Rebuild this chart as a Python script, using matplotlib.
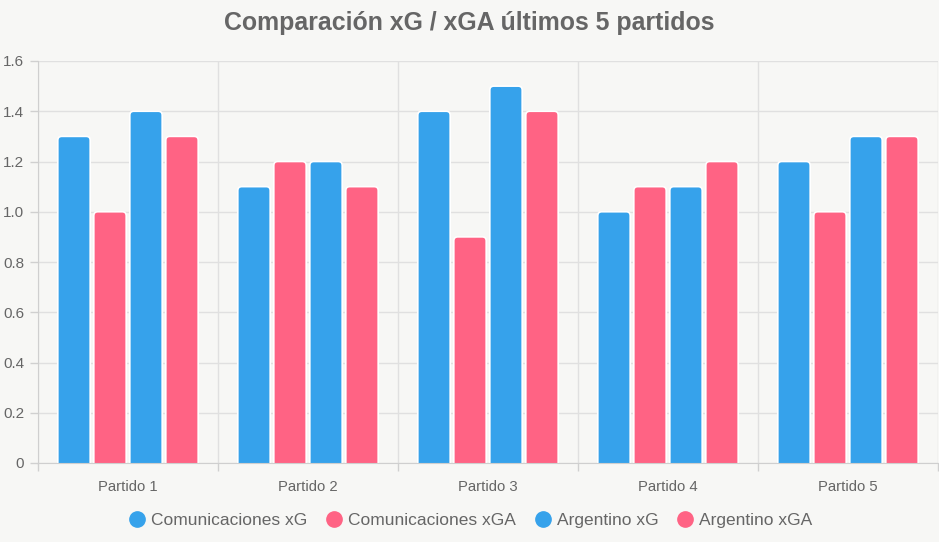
import numpy as np
import matplotlib.pyplot as plt
from matplotlib.patches import FancyBboxPatch
from matplotlib.lines import Line2D

plt.rcParams['font.family'] = ['Liberation Sans', 'DejaVu Sans']

partidos = ['Partido 1', 'Partido 2', 'Partido 3', 'Partido 4', 'Partido 5']
com_xg = [1.3, 1.1, 1.4, 1.0, 1.2]
com_xga = [1.0, 1.2, 0.9, 1.1, 1.0]
arg_xg = [1.4, 1.2, 1.5, 1.1, 1.3]
arg_xga = [1.3, 1.1, 1.4, 1.2, 1.3]
series = ['Comunicaciones xG', 'Comunicaciones xGA', 'Argentino xG', 'Argentino xGA']
yticks = [0, 0.2, 0.4, 0.6, 0.8, 1.0, 1.2, 1.4, 1.6]
ytick_labels = ['0', '0.2', '0.4', '0.6', '0.8', '1.0', '1.2', '1.4', '1.6']

blue = '#36A2EB'
pink = '#FF6384'
colors = [blue, pink, blue, pink]
bg = '#f7f7f5'
txt = '#666666'

fig = plt.figure(figsize=(9.39, 5.42), dpi=100)
fig.patch.set_facecolor(bg)
ax = fig.add_axes([38/939, (542-463)/542, 900/939, 402/542])
ax.set_facecolor(bg)

x = np.arange(len(partidos))
group = 0.8
bw = group / 4
data = [com_xg, com_xga, arg_xg, arg_xga]
for i, vals in enumerate(data):
    offs = -group/2 + bw*(i + 0.5)
    bars = ax.bar(x + offs, vals, width=bw*0.9, color=colors[i])
    for b in bars:
        b.set_visible(False)
        px, py = b.get_x(), b.get_y()
        w, h = b.get_width(), b.get_height()
        p = FancyBboxPatch((px, py - 0.05), w, h + 0.05,
                           boxstyle='round,pad=0,rounding_size=0.022',
                           mutation_aspect=0.72,
                           facecolor=colors[i], edgecolor='white', linewidth=1.2,
                           clip_on=True, zorder=2)
        ax.add_patch(p)

ax.set_xlim(-0.5, len(partidos) - 0.5)
ax.set_ylim(0, 1.6)
ax.set_yticks(yticks)
ax.set_yticklabels(ytick_labels)
ax.set_xticks(np.arange(-0.5, len(partidos)), minor=False)
ax.set_xticklabels([])
ax.set_xticks(x, minor=True)
ax.set_xticklabels(partidos, minor=True)
ax.tick_params(axis='x', which='minor', length=0, pad=12, labelsize=10.7, labelcolor=txt)
ax.tick_params(axis='x', which='major', length=6, color='#d0d0d0', width=1)
ax.tick_params(axis='y', length=6, color='#d0d0d0', width=1, pad=4, labelsize=11, labelcolor=txt)

ax.grid(True, which='major', color='#e0e0e0', linewidth=1, zorder=0)
ax.set_axisbelow(True)
for s in ['top', 'right']:
    ax.spines[s].set_visible(False)
for s in ['left', 'bottom']:
    ax.spines[s].set_color('#cfcfcf')

fig.suptitle('Comparación xG / xGA últimos 5 partidos', y=0.98, fontsize=17.9,
             fontweight='bold', color=txt)

handles = [Line2D([], [], marker='o', linestyle='', markersize=11,
                  markerfacecolor=c, markeredgecolor=c) for c in colors]
fig.legend(handles, series, loc='center', bbox_to_anchor=(0.5, 22/542), ncol=4,
           frameon=False, fontsize=12.5, labelcolor=txt, handletextpad=0.2,
           columnspacing=0.95, handlelength=1.2)

fig.savefig('out.png', dpi=100, facecolor=bg)
